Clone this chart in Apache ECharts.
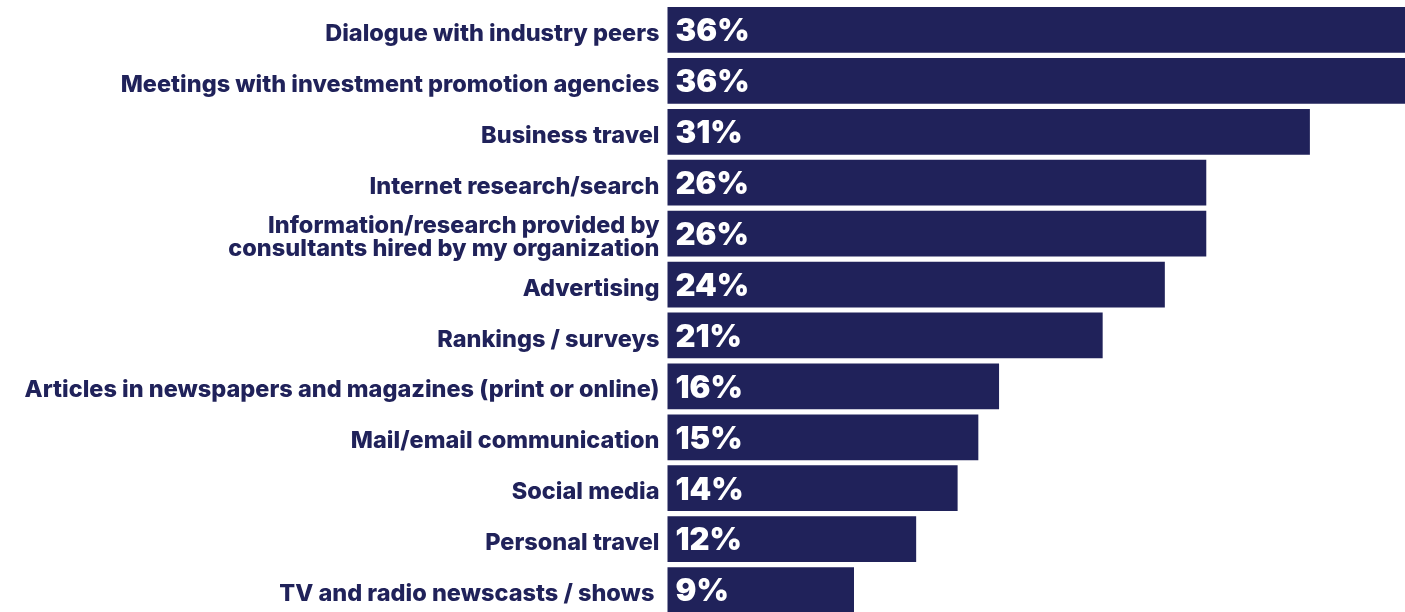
<!DOCTYPE html>
<html>
<head>
<meta charset="utf-8">
<script src="https://cdn.jsdelivr.net/npm/echarts@6/dist/echarts.min.js"></script>
<style>
  html, body { margin: 0; padding: 0; background: #ffffff; overflow: hidden; }
  #chart { width: 1420px; height: 620px; }
</style>
</head>
<body>
<div id="chart"></div>
<script>
// Information sources, top to bottom
const categories = [
  'Dialogue with industry peers',
  'Meetings with investment promotion agencies',
  'Business travel',
  'Internet research/search',
  'Information/research provided by\nconsultants hired by my organization',
  'Advertising',
  'Rankings / surveys',
  'Articles in newspapers and magazines (print or online)',
  'Mail/email communication',
  'Social media',
  'Personal travel',
  'TV and radio newscasts / shows '
];
// Share of respondents (%)
const values = [36, 36, 31, 26, 26, 24, 21, 16, 15, 14, 12, 9];

const navy = '#20225a';
const chart = echarts.init(document.getElementById('chart'));

// A thin blank spacer line above each category name sits the text slightly below the bar centre
const categoryLabel = name =>
  '{gap| }\n' + name.split('\n').map(line => '{t|' + line + '}').join('\n');

chart.setOption({
  animation: false,
  grid: { left: 667.5, top: 4.5, width: 746, height: 611, containLabel: false },
  xAxis: {
    type: 'value', min: 0, max: 36,
    show: false
  },
  yAxis: {
    type: 'category',
    inverse: true,
    data: categories,
    axisLine: { show: false },
    axisTick: { show: false },
    axisLabel: {
      margin: 8,
      align: 'right',
      formatter: categoryLabel,
      rich: {
        gap: { fontSize: 1, lineHeight: 8 },
        t: {
          color: navy,
          fontFamily: 'Inter',
          fontWeight: 800,
          fontSize: 23.5,
          lineHeight: 23,
          align: 'right'
        }
      }
    }
  },
  series: [{
    type: 'bar',
    data: values,
    barCategoryGap: '10%',
    clip: false,
    itemStyle: { color: navy },
    label: {
      show: true,
      position: 'insideLeft',
      distance: 8,
      offset: [0, 2],
      color: '#ffffff',
      fontFamily: 'Inter',
      fontWeight: 900,
      fontSize: 31,
      formatter: p => p.value + '%'
    }
  }]
});
</script>
</body>
</html>
